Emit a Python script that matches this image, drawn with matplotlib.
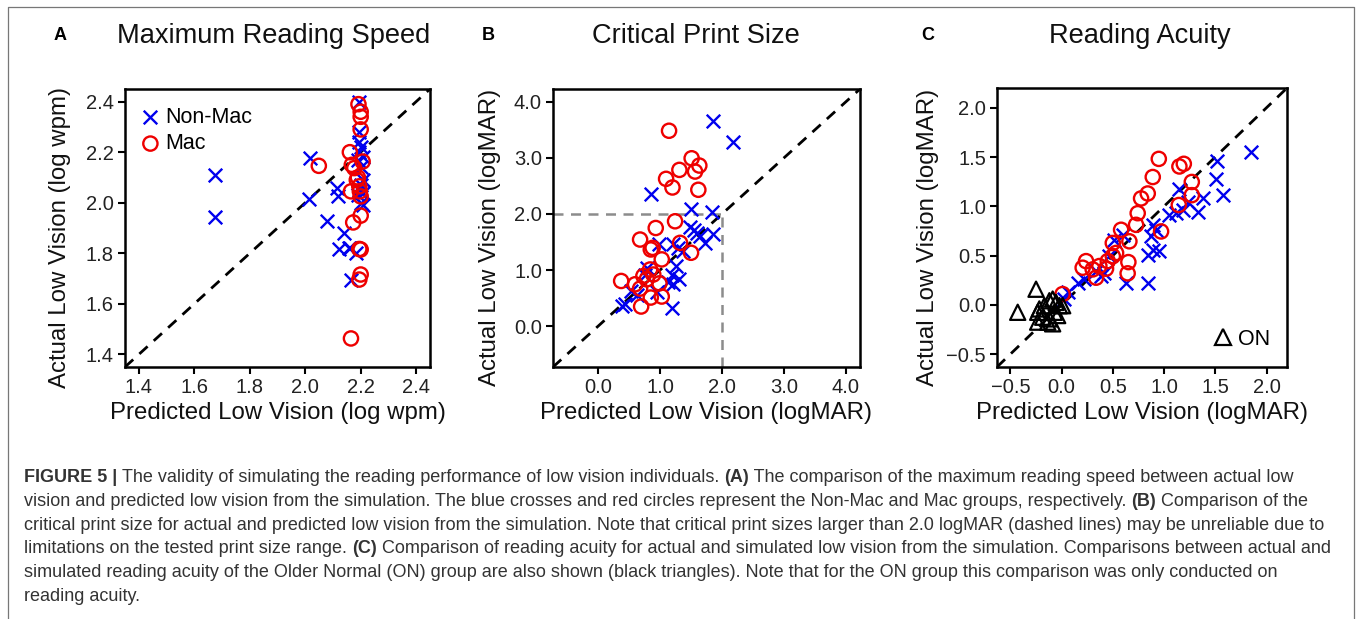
# Figure 5: simulated vs actual low vision reading performance
import numpy as np
import matplotlib
matplotlib.use("Agg")
import matplotlib.pyplot as plt
from matplotlib.lines import Line2D
from matplotlib.ticker import FuncFormatter

plt.rcParams['font.family'] = ['Liberation Sans', 'DejaVu Sans']

# ---- Panel A: maximum reading speed (log wpm) ----
mrs_nonmac_pred = [1.673, 1.673, 2.019, 2.013, 2.077, 2.115, 2.117, 2.141, 2.123, 2.159,
                   2.183, 2.165, 2.195, 2.195, 2.195, 2.200, 2.195, 2.207, 2.190, 2.200,
                   2.207, 2.200, 2.195, 2.207, 2.190, 2.200, 2.207, 2.160]
mrs_nonmac_act = [2.110, 1.943, 2.176, 2.016, 1.929, 2.060, 2.025, 1.880, 1.817, 1.820,
                  1.800, 1.696, 2.397, 2.280, 2.240, 2.220, 2.200, 2.180, 2.170, 2.140,
                  2.090, 2.070, 2.050, 2.040, 2.030, 2.000, 1.990, 1.820]
mrs_mac_pred = [2.192, 2.200, 2.200, 2.200, 2.161, 2.049, 2.168, 2.177, 2.190, 2.186,
                2.165, 2.195, 2.197, 2.200, 2.207, 2.173, 2.200, 2.195, 2.200, 2.200,
                2.195, 2.165]
mrs_mac_act = [2.390, 2.360, 2.340, 2.290, 2.200, 2.146, 2.150, 2.137, 2.100, 2.090,
               2.045, 2.065, 2.045, 2.025, 2.163, 1.922, 1.949, 1.817, 1.815, 1.716,
               1.696, 1.463]

# ---- Panel B: critical print size (logMAR) ----
cps_nonmac_pred = [1.86, 2.18, 0.855, 1.50, 1.844, 1.484, 1.55, 1.59, 1.645, 1.85,
                   1.726, 1.215, 1.285, 0.984, 1.376, 1.258, 0.785, 0.758, 1.188, 1.31,
                   1.215, 0.946, 0.527, 0.624, 0.435, 0.382, 1.188, 1.13]
cps_nonmac_act = [3.66, 3.28, 2.355, 2.09, 2.03, 1.763, 1.72, 1.66, 1.60, 1.65,
                  1.485, 1.456, 1.396, 1.456, 1.337, 1.07, 1.04, 0.92, 0.92, 0.834,
                  0.746, 0.60, 0.627, 0.55, 0.39, 0.36, 0.33, 0.787]
cps_mac_pred = [1.145, 1.51, 1.634, 1.565, 1.312, 1.097, 1.20, 1.618, 1.242, 0.93,
                0.677, 0.88, 0.85, 1.027, 1.323, 1.50, 0.839, 0.73, 0.371, 0.597,
                0.677, 0.99, 0.85, 1.027, 0.694, 0.785, 0.89]
cps_mac_act = [3.485, 2.994, 2.864, 2.757, 2.787, 2.627, 2.473, 2.432, 1.87, 1.75,
               1.544, 1.396, 1.367, 1.19, 1.485, 1.308, 1.01, 0.893, 0.805, 0.746,
               0.669, 0.763, 0.509, 0.527, 0.349, 0.834, 0.92]

# ---- Panel C: reading acuity (logMAR) ----
ra_nonmac_pred = [1.844, 1.518, 1.508, 1.574, 1.378, 1.33, 1.15, 1.183, 1.118, 1.232,
                  1.053, 0.896, 0.923, 0.874, 0.955, 0.89, 0.841, 0.841, 0.63, 0.597,
                  0.516, 0.467, 0.418, 0.385, 0.337, 0.223, 0.158, 0.06, 0.027]
ra_nonmac_act = [1.548, 1.458, 1.28, 1.113, 1.08, 0.946, 1.18, 0.963, 0.93, 1.046,
                 0.912, 0.812, 0.762, 0.695, 0.544, 0.56, 0.51, 0.226, 0.22, 0.711,
                 0.66, 0.494, 0.327, 0.293, 0.343, 0.267, 0.226, 0.126, 0.06]
ra_mac_pred = [0.949, 1.193, 1.15, 0.89, 1.271, 0.841, 0.776, 0.743, 0.727, 1.271,
               1.144, 0.971, 0.581, 0.662, 0.50, 0.532, 0.50, 0.451, 0.652, 0.645,
               0.434, 0.369, 0.239, 0.206, 0.304, 0.337, 0.01]
ra_mac_act = [1.481, 1.431, 1.404, 1.297, 1.247, 1.13, 1.08, 0.93, 0.812, 1.113,
              1.013, 0.745, 0.762, 0.645, 0.628, 0.527, 0.494, 0.444, 0.434, 0.32,
              0.367, 0.394, 0.444, 0.377, 0.36, 0.276, 0.11]
ra_on_pred = [-0.249, -0.428, -0.233, -0.217, -0.168, -0.119, -0.087, -0.054, -0.021,
              0.011, -0.07, -0.038, -0.233, -0.135, -0.087, -0.119, -0.184]
ra_on_act = [0.159, -0.075, -0.075, -0.041, -0.008, 0.042, 0.059, 0.025, -0.008,
             -0.008, -0.075, -0.108, -0.175, -0.175, -0.192, -0.142, -0.125]

titles = ["Maximum Reading Speed", "Critical Print Size", "Reading Acuity"]
letters = ["A", "B", "C"]
units = ["log wpm", "logMAR", "logMAR"]

W, H = 1357, 619
fig = plt.figure(figsize=(W / 100, H / 100), dpi=100)


def box(l, r, t, b):
    return [l / W, (H - b) / H, (r - l) / W, (b - t) / H]


axA = fig.add_axes(box(125, 430, 89, 367))
axB = fig.add_axes(box(553, 860, 89, 367))
axC = fig.add_axes(box(997, 1287, 88, 367))

fmt = FuncFormatter(lambda v, p: f"{v:.1f}".replace('-', '\u2212'))
xs = dict(marker='x', color='#0000ee', s=95, linewidths=1.7, zorder=3)
os_ = dict(marker='o', facecolors='none', edgecolors='#ee0000', s=105, linewidths=1.7, zorder=3)

axA.scatter(mrs_nonmac_pred, mrs_nonmac_act, label="Non-Mac", **xs)
axA.scatter(mrs_mac_pred, mrs_mac_act, label="Mac", **os_)
axB.scatter(cps_nonmac_pred, cps_nonmac_act, **xs)
axB.scatter(cps_mac_pred, cps_mac_act, **os_)
axC.scatter(ra_nonmac_pred, ra_nonmac_act, **xs)
axC.scatter(ra_mac_pred, ra_mac_act, **os_)
axC.scatter(ra_on_pred, ra_on_act, marker='^', facecolors='none', edgecolors='black',
            s=120, linewidths=1.6, zorder=3)

lims = [(1.35, 2.45), (-0.73, 4.23), (-0.63, 2.2)]
ticks = [np.arange(1.4, 2.41, 0.2), np.arange(0, 4.01, 1.0), np.arange(-0.5, 2.01, 0.5)]
ylab_x = [-0.177, -0.169, -0.2]
title_x = [274, 696, 1140]

for ax, lim, tk, title, tx, unit, yx in zip([axA, axB, axC], lims, ticks, titles,
                                              title_x, units, ylab_x):
    ax.plot(lim, lim, ls=(0, (4, 3)), color='black', lw=2, zorder=2)
    ax.set_xlim(lim)
    ax.set_ylim(lim)
    ax.set_xticks(tk)
    ax.set_yticks(tk)
    ax.xaxis.set_major_formatter(fmt)
    ax.yaxis.set_major_formatter(fmt)
    ax.tick_params(direction='out', length=5, width=1.5, labelsize=14.5, pad=3,
                   colors='black', labelcolor='#222222')
    for sp in ax.spines.values():
        sp.set_linewidth(1.8)
    ax.set_xlabel(f"Predicted Low Vision ({unit})", fontsize=17.3, color='#111111')
    ax.set_ylabel(f"Actual Low Vision ({unit})", fontsize=17.3, color='#111111')
    ax.xaxis.set_label_coords(0.5, -0.125)
    ax.yaxis.set_label_coords(yx, 0.465)
    fig.text(tx / W, 1 - 36 / H, title, fontsize=19.6,
             ha='center', va='center', color='#111111')

fig.text(60 / W, 1 - 35 / H, "A", fontsize=13, fontweight='bold', ha='center', va='center')
fig.text(488 / W, 1 - 35 / H, "B", fontsize=13, fontweight='bold', ha='center', va='center')
fig.text(928 / W, 1 - 35 / H, "C", fontsize=13, fontweight='bold', ha='center', va='center')

# gray dashed guide lines at 2.0 logMAR
axB.plot([-0.73, 2.0], [2.0, 2.0], ls=(0, (4, 3)), color='#8c8c8c', lw=1.8, zorder=1)
axB.plot([2.0, 2.0], [-0.73, 2.0], ls=(0, (4, 3)), color='#8c8c8c', lw=1.8, zorder=1)

axA.legend(loc='upper left', frameon=False, fontsize=15.5, handletextpad=0.15,
           labelspacing=0.25, borderaxespad=0.3, handlelength=1.1,
           bbox_to_anchor=(-0.005, 0.99))
on_handle = Line2D([], [], marker='^', ls='none', markerfacecolor='none',
                   markeredgecolor='black', markersize=11, markeredgewidth=1.6)
axC.legend([on_handle], ["ON"], loc='lower right', frameon=False, fontsize=15.5,
           handletextpad=0.1, handlelength=1.2, borderaxespad=0.4)

# outer frame (open at the bottom)
fig.add_artist(Line2D([8 / W, 8 / W, 1354 / W, 1354 / W],
                      [0, 1 - 7 / H, 1 - 7 / H, 0], color='#777777', lw=0.9))

# caption, drawn run by run so that bold pieces sit inline
caption = [
    [("FIGURE 5 | ", True), ("The validity of simulating the reading performance of low vision individuals. ", False),
     ("(A)", True), (" The comparison of the maximum reading speed between actual low", False)],
    [("vision and predicted low vision from the simulation. The blue crosses and red circles represent the Non-Mac and Mac groups, respectively. ", False),
     ("(B)", True), (" Comparison of the", False)],
    [("critical print size for actual and predicted low vision from the simulation. Note that critical print sizes larger than 2.0 logMAR (dashed lines) may be unreliable due to", False)],
    [("limitations on the tested print size range. ", False), ("(C)", True),
     (" Comparison of reading acuity for actual and simulated low vision from the simulation. Comparisons between actual and", False)],
    [("simulated reading acuity of the Older Normal (ON) group are also shown (black triangles). Note that for the ON group this comparison was only conducted on", False)],
    [("reading acuity.", False)],
]
renderer = fig.canvas.get_renderer()
y0 = 482
for i, line in enumerate(caption):
    x = 24
    for txt, bold in line:
        t = fig.text(x / W, 1 - (y0 + i * 23.8) / H, txt, fontsize=13.0,
                     fontweight='bold' if bold else 'normal', color='#333333',
                     ha='left', va='baseline')
        x += t.get_window_extent(renderer).width

fig.savefig("out.png", dpi=100)
